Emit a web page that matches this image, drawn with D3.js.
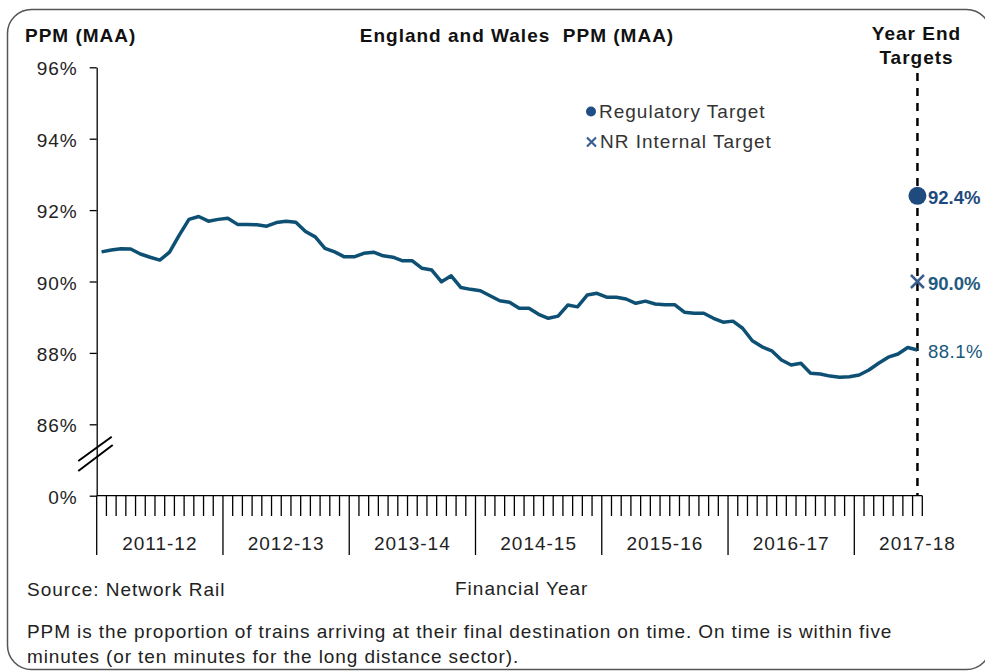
<!DOCTYPE html>
<html><head><meta charset="utf-8">
<script src="https://cdn.jsdelivr.net/npm/d3@7"></script>
<style>
body{margin:0;background:#fff}
text{font-family:"Liberation Sans",Arial,sans-serif;}
</style>
</head><body>
<svg id="c" width="985" height="671"></svg>
<script>
// ---- data ----
const years = ["2011-12","2012-13","2013-14","2014-15","2015-16","2016-17","2017-18"];
const periodsPerYear = [13,13,13,13,13,13,7];
const ppm = [
  90.83,90.88,90.92,90.91,90.77,90.68,90.60,90.82,91.30,91.74,91.82,91.69,91.74,
  91.77,91.60,91.60,91.59,91.55,91.65,91.69,91.66,91.40,91.25,90.93,90.83,90.69,
  90.69,90.79,90.82,90.72,90.68,90.58,90.58,90.37,90.32,89.99,90.16,89.83,89.78,
  89.74,89.60,89.46,89.42,89.25,89.25,89.08,88.97,89.03,89.34,89.29,89.62,89.67,
  89.56,89.56,89.51,89.39,89.45,89.37,89.35,89.35,89.14,89.11,89.11,88.97,88.86,
  88.89,88.69,88.34,88.17,88.06,87.80,87.66,87.71,87.43,87.41,87.35,87.32,87.33,
  87.38,87.52,87.71,87.88,87.97,88.15,88.08
];
const yTickValues = [84,86,88,90,92,94,96];
const yTickLabels = ["0%","86%","88%","90%","92%","94%","96%"];
const regulatoryTarget = 92.4;
const internalTarget = 90.0;

// ---- layout ----
const svg = d3.select("#c");
const pLeft = 96.7, pRight = 922.3, pTop = 67.3, pBottom = 495.7;

const categories = years.flatMap((yr,i)=>d3.range(periodsPerYear[i]).map(p=>yr+" P"+(p+1)));
const x = d3.scaleBand().domain(categories).range([pLeft,pRight]).padding(0);
const bw = x.bandwidth();
const cx = c => x(c) + bw/2;
const y = d3.scaleLinear().domain([84,96]).range([pBottom,pTop]);

// border
svg.append("rect").attr("x",7.5).attr("y",9.5).attr("width",983).attr("height",660)
  .attr("rx",24).attr("ry",24).attr("fill","none").attr("stroke","#555").attr("stroke-width",1.5);

const txt = (s,xx,yy,opt={}) => svg.append("text").attr("x",xx).attr("y",yy)
  .attr("font-size",opt.size||19).attr("font-weight",opt.bold?"bold":"normal")
  .attr("letter-spacing",opt.ls===undefined?1:opt.ls).attr("fill",opt.fill||"#222")
  .attr("text-anchor",opt.anchor||"start").style("white-space","pre").text(s);

// titles
txt("PPM (MAA)",25,42,{bold:true,fill:"#111"});
txt("England and Wales  PPM (MAA)",517,42,{bold:true,anchor:"middle",fill:"#111"});
txt("Year End",916.5,39.5,{bold:true,anchor:"middle",fill:"#111"});
txt("Targets",916.5,63.5,{bold:true,anchor:"middle",fill:"#111"});

// y axis
const yAxis = d3.axisLeft(y).tickValues(yTickValues)
  .tickFormat((d,i)=>yTickLabels[i]).tickSize(7).tickSizeOuter(0).tickPadding(12);
const gy = svg.append("g").attr("transform",`translate(${pLeft},0)`).call(yAxis);
gy.select(".domain").attr("stroke","#000").attr("stroke-width",1.3);
gy.selectAll(".tick line").attr("stroke","#000").attr("stroke-width",1.3);
gy.selectAll(".tick text").attr("font-size",19).attr("letter-spacing",1)
  .attr("fill","#222").attr("font-family","Liberation Sans, Arial, sans-serif").attr("dy","0.4em");

// axis break marks
svg.append("line").attr("x1",78.3).attr("y1",461).attr("x2",111.7).attr("y2",436.7)
  .attr("stroke","#000").attr("stroke-width",2);
svg.append("line").attr("x1",78.3).attr("y1",471).attr("x2",112.7).attr("y2",445)
  .attr("stroke","#000").attr("stroke-width",2);

// x axis
svg.append("line").attr("x1",pLeft).attr("x2",pRight).attr("y1",pBottom).attr("y2",pBottom)
  .attr("stroke","#000").attr("stroke-width",1.3);
const boundaries = categories.map(c=>x(c)).concat([pRight]);
let yearStarts = [];
let acc = 0;
periodsPerYear.forEach(n=>{yearStarts.push(acc); acc+=n;});
boundaries.forEach((bx,i)=>{
  const major = yearStarts.includes(i) && i < categories.length;
  svg.append("line").attr("x1",bx).attr("x2",bx).attr("y1",pBottom).attr("y2",major?555:516)
    .attr("stroke","#000").attr("stroke-width",1.3);
});
years.forEach((yr,i)=>{
  const start = x(categories[yearStarts[i]]);
  txt(yr,start+6.5*bw,550,{anchor:"middle"});
});

// dashed target line
const lastCat = categories[categories.length-1];
svg.append("line").attr("x1",cx(lastCat)).attr("x2",cx(lastCat)).attr("y1",73).attr("y2",pBottom)
  .attr("stroke","#000").attr("stroke-width",2.5).attr("stroke-dasharray","8,7");

// data line
const line = d3.line().x((d,i)=>cx(categories[i])).y(d=>y(d));
svg.append("path").datum(ppm).attr("d",line).attr("fill","none")
  .attr("stroke","#0e5073").attr("stroke-width",3.5).attr("stroke-linejoin","round");

// targets
const tx = cx(lastCat);
svg.append("circle").attr("cx",tx).attr("cy",y(regulatoryTarget)).attr("r",9).attr("fill","#1f4a7e");
const cs = 6.5, ciy = y(internalTarget);
svg.append("path").attr("d",`M${tx-cs},${ciy-cs}L${tx+cs},${ciy+cs}M${tx-cs},${ciy+cs}L${tx+cs},${ciy-cs}`)
  .attr("stroke","#3b5c8f").attr("stroke-width",2.5).attr("fill","none");

txt(regulatoryTarget.toFixed(1)+"%",928,y(regulatoryTarget)+8.5,{bold:true,fill:"#1f4a7e",ls:0,size:18.5});
txt(internalTarget.toFixed(1)+"%",928,ciy+8.5,{bold:true,fill:"#1f5a80",ls:0,size:18.5});
txt(ppm[ppm.length-1].toFixed(1)+"%",928,y(ppm[ppm.length-1])+8,{fill:"#17577a",ls:0.5,size:18.5});

// legend
svg.append("circle").attr("cx",591).attr("cy",111.5).attr("r",5).attr("fill","#1f4e87");
txt("Regulatory Target",599,118,{fill:"#333"});
svg.append("path").attr("d","M587,137.5L596,146.5M587,146.5L596,137.5")
  .attr("stroke","#3a5f95").attr("stroke-width",2.2).attr("fill","none");
txt("NR Internal Target",600,148,{fill:"#333"});

// footer
txt("Source: Network Rail",27,596);
txt("Financial Year",455,595);
txt("PPM is the proportion of trains arriving at their final destination on time. On time is within five",27,638,{size:19,ls:0.9});
txt("minutes (or ten minutes for the long distance sector).",27,663,{size:19,ls:0.9});
</script>
</body></html>
